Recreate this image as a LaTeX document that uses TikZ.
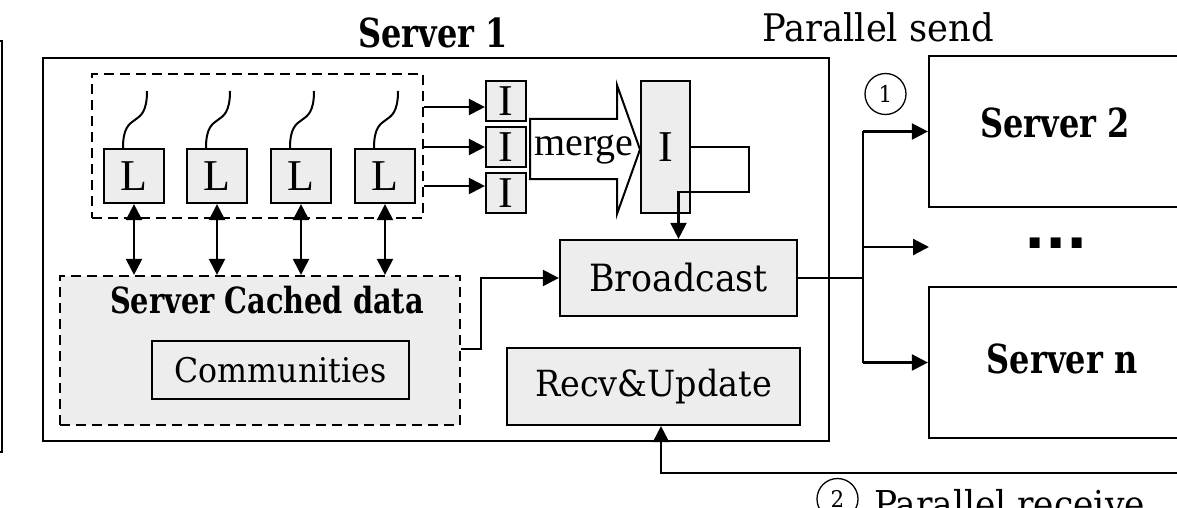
\documentclass[tikz,border=0pt]{standalone}
\usepackage{fontspec}
\usetikzlibrary{arrows.meta}
\newfontfamily\nf{DejaVu Serif}[FakeStretch=0.93]
\newfontfamily\bnf{DejaVu Serif}[FakeStretch=0.8]
\newfontfamily\tf{Liberation Serif}
\newfontfamily\dotf{DejaVu Sans}
\definecolor{boxgray}{HTML}{EDEDED}
\begin{document}
\begin{tikzpicture}[x=1pt,y=-1pt,line width=2.2pt,
  arr/.style={-{Triangle[length=16pt,width=16pt]}},
  darr/.style={{Triangle[length=16pt,width=16pt]}-{Triangle[length=16pt,width=16pt]}},
  wh/.style 2 args={minimum width=#1pt,minimum height=#2pt},
  gbox/.style={draw,fill=boxgray,inner sep=0pt},
  dbox/.style={draw,dash pattern=on 10pt off 6pt,inner sep=0pt},
  tfont/.style={font={\tf\fontsize{#1}{#1}\selectfont}},
  nfont/.style={font={\nf\fontsize{#1}{#1}\selectfont}},
  bfont/.style={font={\bnf\bfseries\fontsize{#1}{#1}\selectfont}},
  circnum/.style={draw,circle,line width=1.3pt,inner sep=0pt,minimum size=41pt,font={\nf\fontsize{23}{23}\selectfont}},
  wire/.style={line width=2pt}
]
\clip (0,0) rectangle (1177,508);
\fill[white] (0,0) rectangle (1177,508);

% left fragment of a box
\draw (-5,41) -- (2,41) -- (2,452) -- (-5,452);

% Server 1
\node[draw,inner sep=0pt,wh={786}{383}] (S1) at (436,249.5) {};
\node[anchor=base,bfont=40] (S1t) at (433,48) {Server 1};

% dashed box with L nodes
\node[dbox,wh={331}{144}] (LB) at (257.5,146) {};
\foreach \i/\x in {1/134,2/217,3/301,4/385}{
  \node[gbox,wh={60}{54},tfont=44] (L\i) at (\x,176) {L};
  \draw[wire] (\x+13,91) .. controls (\x+13,132) and (\x-11,108) .. ([xshift=-11pt]L\i.north);
}

% Cached data
\node[dbox,fill=boxgray,wh={400}{149}] (CD) at (260,350.5) {};
\node[bfont=36,inner sep=0pt] (CDt) at (267,300) {Server Cached data};
\node[gbox,wh={257}{58},nfont=34] (Cm) at (280.5,370) {Communities};

\foreach \i in {1,2,3,4}{
  \draw[darr] (L\i.south) -- (L\i.south |- CD.north);
}

% I nodes
\node[gbox,wh={40}{40},tfont=44] (I1) at (506,101) {I};
\node[gbox,wh={40}{40},tfont=44] (I2) at (506,147) {I};
\node[gbox,wh={40}{40},tfont=44] (I3) at (506,193) {I};
\draw[arr] (LB.east |- 0,107) -- (I1.west |- 0,107);
\draw[arr] (LB.east |- 0,147) -- (I2.west |- 0,147);
\draw[arr] (LB.east |- 0,186) -- (I3.west |- 0,186);

% merge arrow
\draw[fill=white,line width=2pt,line join=miter] (530,119) -- (617,119) -- (617,85) -- (640,149.5) -- (617,214) -- (617,179) -- (530,179) -- cycle;
\node[tfont=40,inner sep=0pt] (mg) at (584,150) {merge};

% big I
\node[gbox,wh={49}{132},tfont=44] (BI) at (665.5,147) {I};

% Broadcast and Recv
\node[gbox,wh={237}{76},nfont=37.5] (B) at (678.5,278) {Broadcast};
\node[gbox,wh={293}{77},nfont=36] (R) at (653.5,386.5) {Recv\&Update};

\draw[arr] (BI.east) -- (749,147) -- (749,192) -- (B.north |- 0,192) -- (B.north);
\draw[arr] (CD.east |- 0,349) -- (481,349) |- (B.west);

% other servers
\node[draw,inner sep=0pt,wh={256}{151}] (S2) at (1057,131.5) {};
\node[draw,inner sep=0pt,wh={256}{151}] (Sn) at (1057,362.5) {};
\node[anchor=base,bfont=40] (S2t) at (1055,137) {Server 2};
\node[anchor=base,bfont=40] (Snt) at (1062,373) {Server n};
\node[font={\dotf\bfseries\fontsize{56}{56}\selectfont},inner sep=0pt] (dots) at (1056,243) {...};
\coordinate (dend) at (929,247);

\coordinate (J) at (863,278);
\draw (B.east) -- (J);
\draw (J |- S2.west) -- (J |- Sn.west);
\draw[arr] (J |- S2.west) -- (S2.west);
\draw[arr] (J |- dend) -- (dend);
\draw[arr] (J |- Sn.west) -- (Sn.west);

\node[circnum] (c1) at (885.5,94) {1};
\node[anchor=base,nfont=38] (ps) at (878,42) {Parallel send};

% receive
\coordinate (rin) at (1190,473);
\draw[arr] (rin) -| ([xshift=7.5pt]R.south);
\node[circnum] (c2) at (837.5,499) {2};
\node[anchor=base west,nfont=37,inner sep=0pt] (pr) at (873,517) {Parallel receive};
\end{tikzpicture}
\end{document}
